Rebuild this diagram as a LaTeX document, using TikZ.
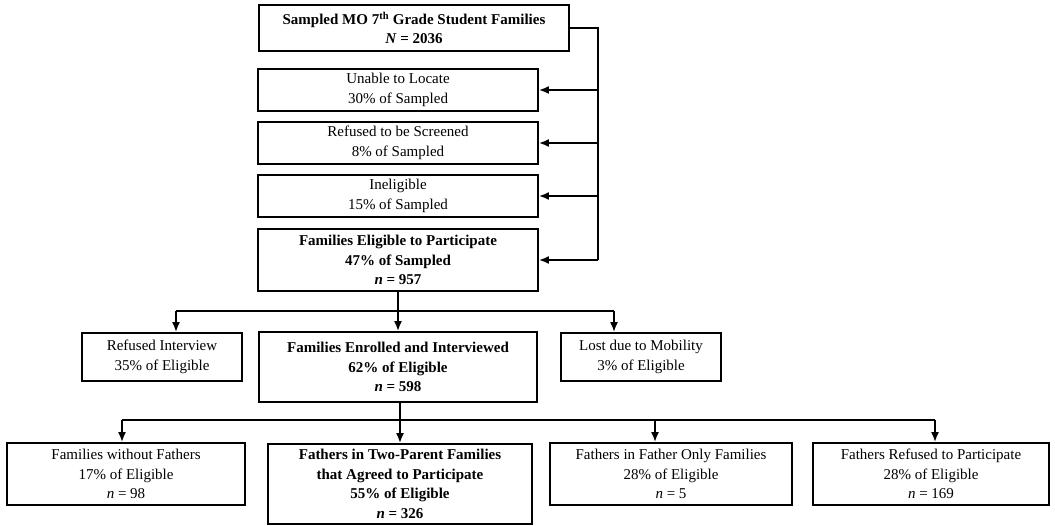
\documentclass[tikz,border=0pt]{standalone}
\usepackage{fontspec}
\setmainfont{Liberation Serif}
\usetikzlibrary{arrows.meta}
\begin{document}
\begin{tikzpicture}[x=1pt,y=-1pt,
  box/.style={draw, line width=1.8pt, inner sep=0pt, align=center,
    font=\fontsize{15}{19.5}\selectfont},
  bbox/.style={box, font=\fontsize{15}{19.5}\selectfont\bfseries},
  ln/.style={line width=1.8pt},
  arr/.style={line width=1.8pt, -{Latex[length=10pt,width=8pt]}}]
\useasboundingbox (0,0) rectangle (1055,526);

% top column
\node[bbox, minimum width=310pt, minimum height=46pt] (top) at (414,28)
  {Sampled MO 7\textsuperscript{th} Grade Student Families\\\textit{N} = 2036};
\node[box, minimum width=280pt, minimum height=42pt] (unable) at (398,90)
  {Unable to Locate\\30\% of Sampled};
\node[box, minimum width=280pt, minimum height=42pt] (screen) at (398,143)
  {Refused to be Screened\\8\% of Sampled};
\node[box, minimum width=280pt, minimum height=42pt] (inel) at (398,196)
  {Ineligible\\15\% of Sampled};
\node[bbox, minimum width=280pt, minimum height=62pt] (elig) at (398,260)
  {Families Eligible to Participate\\47\% of Sampled\\\textit{n} = 957};

% middle row
\node[box, minimum width=160pt, minimum height=48pt] (refint) at (162,357)
  {Refused Interview\\35\% of Eligible};
\node[bbox, minimum width=278pt, minimum height=70pt] (enrol) at (398,367)
  {Families Enrolled and Interviewed\\62\% of Eligible\\\textit{n} = 598};
\node[box, minimum width=160pt, minimum height=48pt] (lost) at (641,357)
  {Lost due to Mobility\\3\% of Eligible};

% bottom row
\node[box, minimum width=238pt, minimum height=62pt] (nofa) at (126,474)
  {Families without Fathers\\17\% of Eligible\\\textit{n} = 98};
\node[bbox, minimum width=264pt, minimum height=80pt] (two) at (400,484)
  {Fathers in Two-Parent Families\\that Agreed to Participate\\55\% of Eligible\\\textit{n} = 326};
\node[box, minimum width=242pt, minimum height=62pt] (faonly) at (671,474)
  {Fathers in Father Only Families\\28\% of Eligible\\\textit{n} = 5};
\node[box, minimum width=236pt, minimum height=62pt] (faref) at (931,474)
  {Fathers Refused to Participate\\28\% of Eligible\\\textit{n} = 169};

% right-hand feed line
\coordinate (r0) at (598,28);
\draw[ln] (top.east) -- (r0) -- (r0 |- elig.east);
\draw[arr] (r0 |- unable.east) -- (unable.east);
\draw[arr] (r0 |- screen.east) -- (screen.east);
\draw[arr] (r0 |- inel.east) -- (inel.east);
\draw[arr] (r0 |- elig.east) -- (elig.east);

% first branch
\coordinate (b1l) at (176,311);
\coordinate (b1r) at (614,311);
\draw[ln] (b1l) -- (b1r);
\draw[arr] (elig.south) -- (elig.south |- enrol.north);
\draw[arr] (b1l) -- (b1l |- refint.north);
\draw[arr] (b1r) -- (b1r |- lost.north);

% second branch
\coordinate (b2a) at (122,420);
\coordinate (b2c) at (655,420);
\coordinate (b2d) at (935,420);
\draw[ln] (b2a) -- (b2d);
\draw[arr] (enrol.south -| two.north) -- (two.north);
\draw[arr] (b2a) -- (b2a |- nofa.north);
\draw[arr] (b2c) -- (b2c |- faonly.north);
\draw[arr] (b2d) -- (b2d |- faref.north);
\end{tikzpicture}
\end{document}
